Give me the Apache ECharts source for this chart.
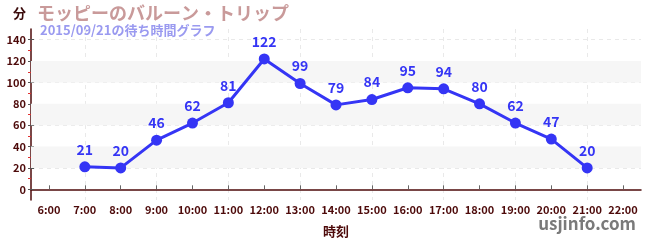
<!DOCTYPE html>
<html><head><meta charset="utf-8">
<script src="https://cdn.jsdelivr.net/npm/echarts@6/dist/echarts.min.js"></script>
<style>html,body{margin:0;padding:0;background:#fff}#c{width:650px;height:250px}</style>
</head><body><div id="c"></div>
<script>
const categories = ['6:00','7:00','8:00','9:00','10:00','11:00','12:00','13:00','14:00','15:00','16:00','17:00','18:00','19:00','20:00','21:00','22:00'];
const waitMinutes = [null,21,20,46,62,81,122,99,79,84,95,94,80,62,47,20,null];
const yMajorTicks = [0,20,40,60,80,100,120,140];
const yMinorTicks = [10,30,50,70,90,110,130];
const shadedBands = [[20,40],[60,80],[100,120]];
const titleText = 'モッピーのバルーン・トリップ';
const subtitleText = '2015/09/21の待ち時間グラフ';
const yUnit = '分';
const xName = '時刻';
const credit = 'usjinfo.com';

const FONT = '"Noto Sans CJK JP", "Noto Sans", sans-serif';
const MAROON = '#4d0a0a';
const GRIDLINE = '#e9e9e9';
const chart = echarts.init(document.getElementById('c'), null, {renderer:'canvas'});
// half-step helper axis so vertical dashed lines sit on category centres
const halfSteps = categories.length * 2;
const centreTicks = categories.map((_, i) => 2 * i + 1);
const yBase = { type:'value', min:-10, max:150, interval:10, position:'left' };
chart.setOption({
  animation:false,
  textStyle:{fontFamily:FONT},
  grid:{left:31, right:9, top:29, bottom:50, containLabel:false},
  graphic:[
    {type:'text', left:13, top:7, style:{text:yUnit, fill:'#3a0a0a', font:'bold 13px '+FONT}},
    {type:'text', left:37, top:4, style:{text:titleText, fill:'#c99a9a', font:'bold 18px '+FONT}},
    {type:'text', left:40, top:24, style:{text:subtitleText, fill:'#9a9af0', font:'bold 13px '+FONT}},
    {type:'text', right:14, top:215, style:{text:credit, fill:'#7a7a7a', font:'bold 17px '+FONT}}
  ],
  xAxis:[{
    type:'category', data:categories, boundaryGap:true,
    name:xName, nameLocation:'middle', nameGap:25,
    nameTextStyle:{color:MAROON, fontWeight:'bold', fontSize:13, fontFamily:FONT},
    axisLine:{lineStyle:{color:MAROON, width:1.5}},
    axisTick:{alignWithLabel:true, interval:0, length:3, lineStyle:{color:'#666'}},
    axisLabel:{interval:0, hideOverlap:false, color:MAROON, fontSize:11, fontWeight:'bold', margin:4, fontFamily:FONT},
    splitLine:{show:false}
  },{
    type:'value', min:0, max:halfSteps, interval:1, position:'bottom',
    axisLine:{show:false}, axisLabel:{show:false},
    axisTick:{show:true, inside:true, customValues:centreTicks, length:4, lineStyle:{color:'#666'}},
    splitLine:{show:true, lineStyle:{color:['transparent', GRIDLINE], type:[4,4]}}
  }],
  yAxis:[
    Object.assign({}, yBase, {
      axisLine:{show:true, lineStyle:{color:MAROON, width:1.5}},
      axisTick:{show:true, customValues:yMajorTicks, length:3, lineStyle:{color:'#555'}},
      axisLabel:{customValues:yMajorTicks, color:MAROON, fontSize:11, fontWeight:'bold', margin:5, fontFamily:FONT},
      splitLine:{show:true, lineStyle:{color:['transparent', GRIDLINE], type:[4,4]}}
    }),
    Object.assign({}, yBase, {
      axisLine:{show:false},
      axisTick:{show:true, customValues:yMinorTicks, length:3, lineStyle:{color:'#e03030'}},
      axisLabel:{show:false},
      splitLine:{show:false}
    }),
    Object.assign({}, yBase, {
      axisLine:{show:false},
      axisTick:{show:true, inside:true, customValues:yMajorTicks, length:3, lineStyle:{color:'#555'}},
      axisLabel:{show:false},
      splitLine:{show:false}
    })
  ],
  series:[{
    type:'line', data:waitMinutes, xAxisIndex:0, yAxisIndex:0,
    symbol:'circle', symbolSize:11, connectNulls:false,
    lineStyle:{color:'#3535f5', width:3},
    itemStyle:{color:'#3535f5'},
    label:{show:true, position:'top', distance:5, color:'#3535f5', fontWeight:'bold', fontSize:14, fontFamily:FONT},
    markArea:{silent:true, itemStyle:{color:'#f6f6f6'},
      data: shadedBands.map(b=>[{yAxis:b[0]},{yAxis:b[1]}])},
    z:3
  }]
});
</script></body></html>
